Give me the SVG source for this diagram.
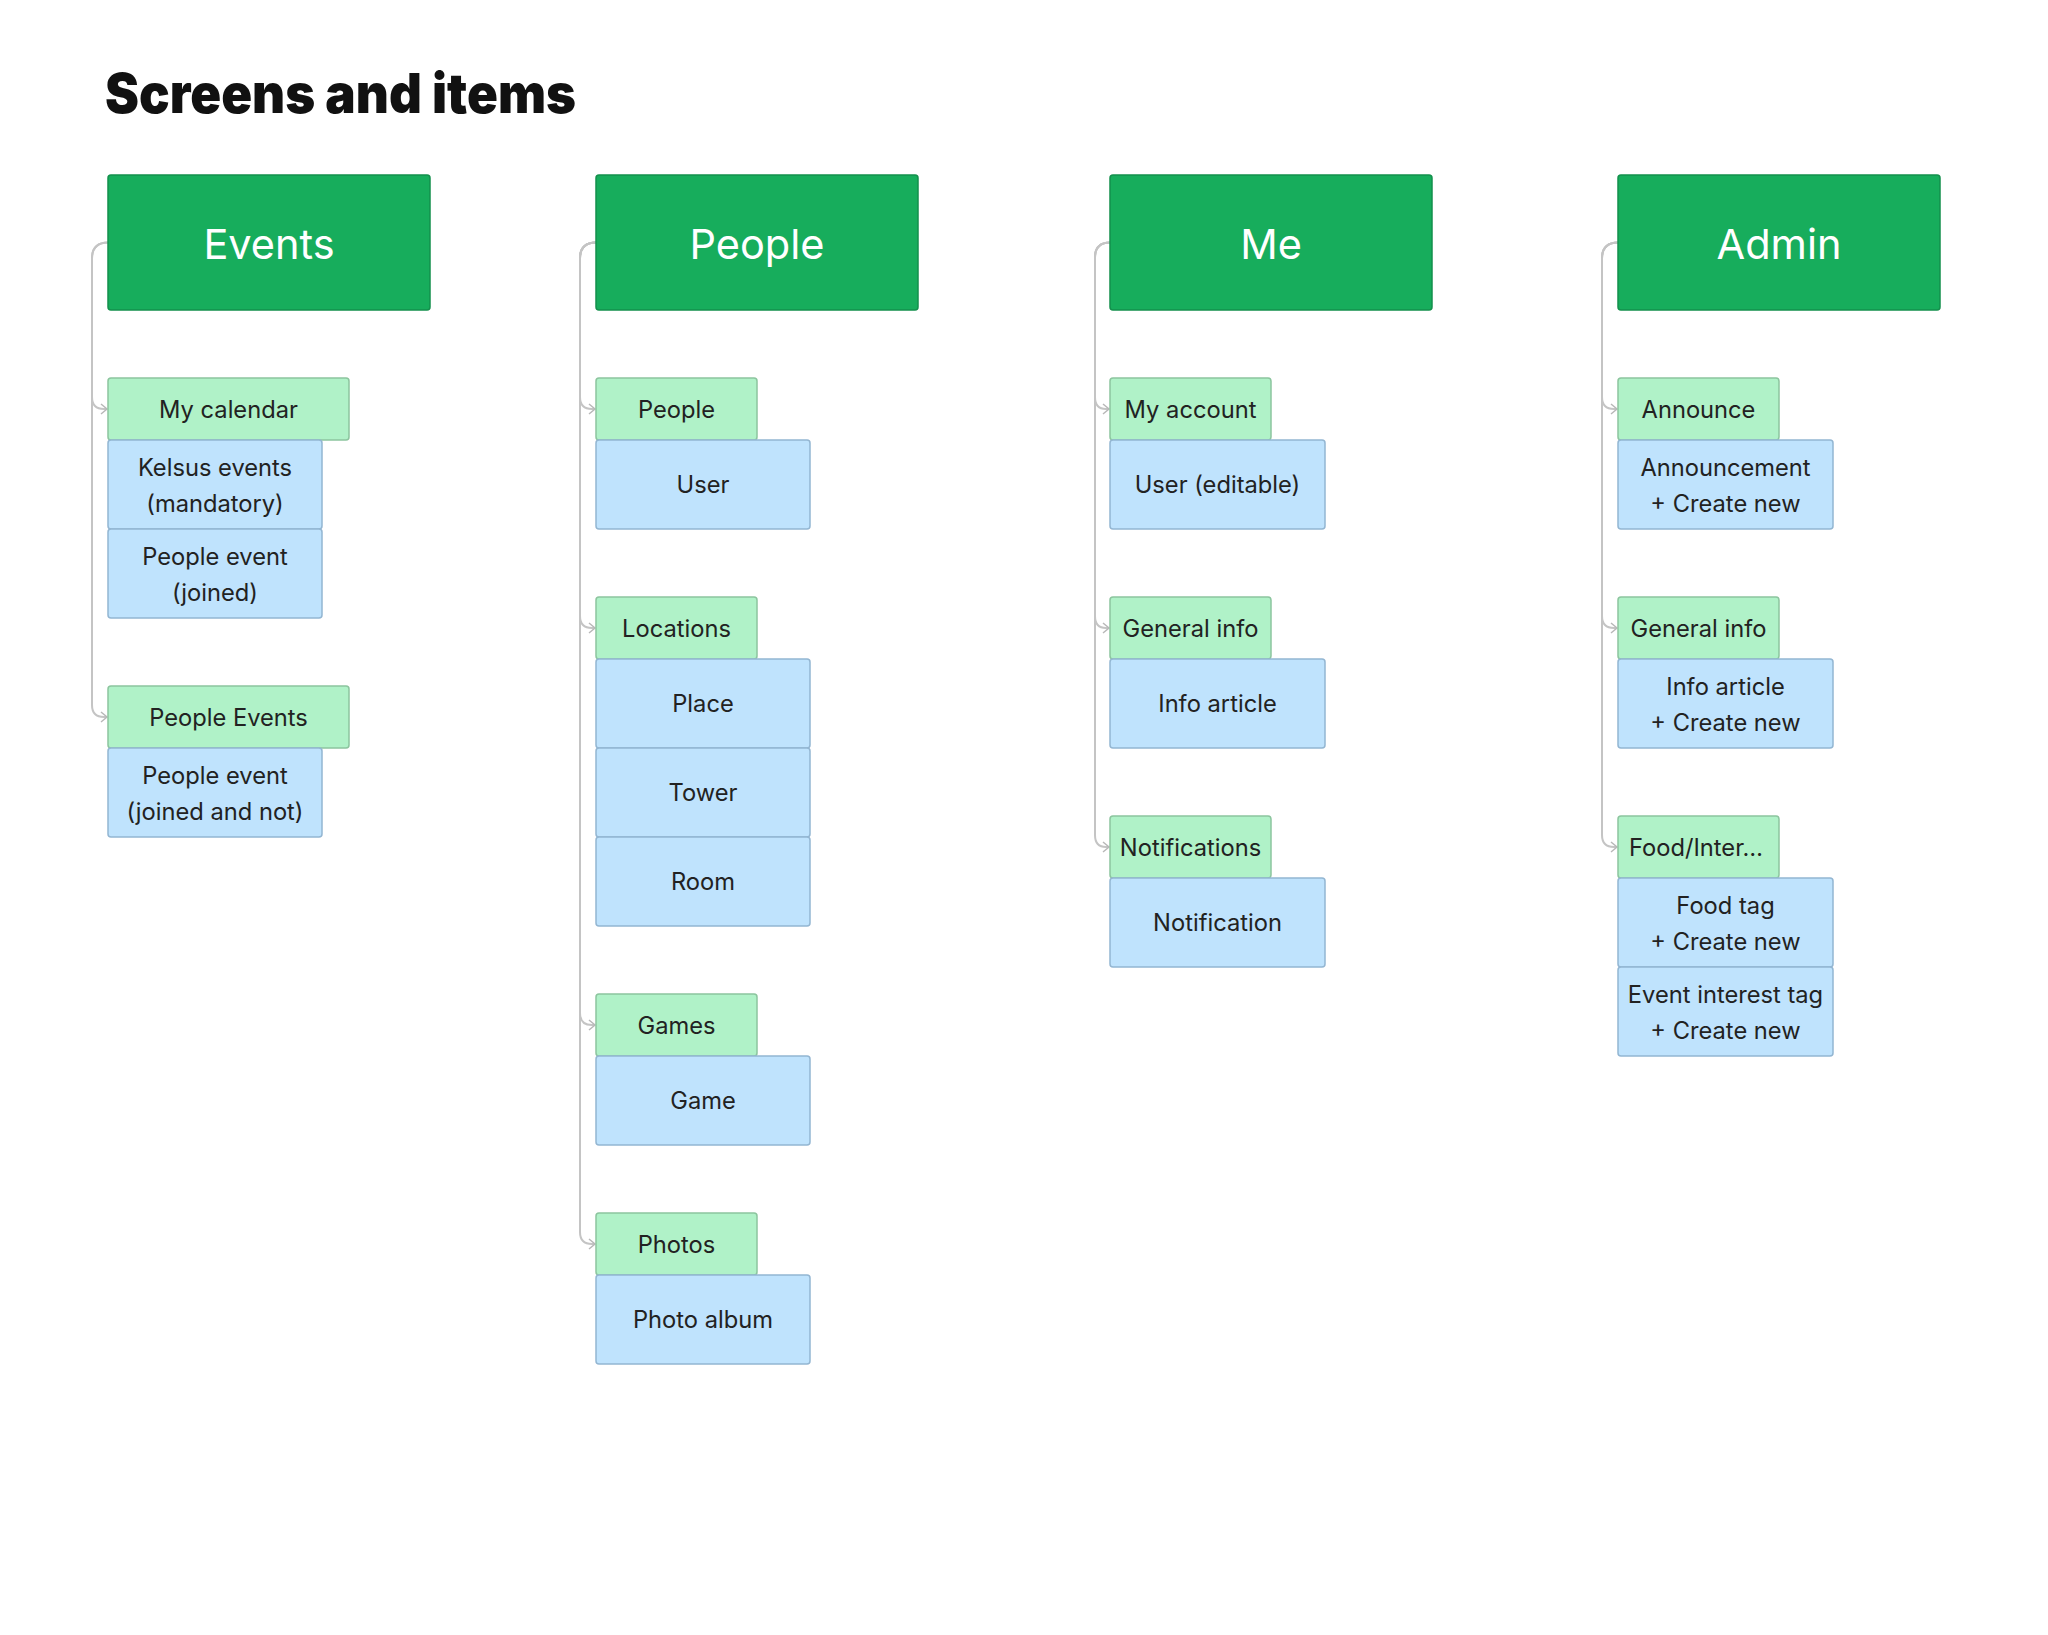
<svg xmlns="http://www.w3.org/2000/svg" width="2048" height="1635" viewBox="0 0 2048 1635">
<style>
.title{font-family:Inter,"Liberation Sans",sans-serif;font-weight:900;font-size:55px;fill:#111}
.hdr rect{fill:#17ad5c;stroke:#13904c;stroke-width:1.5}
.hdr text{font-family:Inter,"Liberation Sans",sans-serif;font-size:41.5px;fill:#fff;text-anchor:middle}
.grn rect{fill:#b0f2c8;stroke:#8cc59e;stroke-width:1.5}
.blu rect{fill:#bfe3fd;stroke:#93b6d2;stroke-width:1.5}
.grn text,.blu text{font-family:Inter,"Liberation Sans",sans-serif;font-size:23.7px;fill:#222;text-anchor:middle}
.con path{fill:none;stroke:#c4c4c4;stroke-width:2}
</style>
<defs>
<marker id="arr" markerWidth="10" markerHeight="12" refX="7" refY="6" orient="auto" markerUnits="userSpaceOnUse">
<path d="M1,1 L7,6 L1,11" fill="none" stroke="#b8b8b8" stroke-width="1.5"/>
</marker>
</defs>
<rect width="2048" height="1635" fill="#fff"/>
<text class="title" x="105" y="113" textLength="471" lengthAdjust="spacingAndGlyphs">Screens and items</text>

<g id="connectors" class="con">
<path d="M108,242.5 Q92,242.5 92,258.5 V397 Q92,409 104,409 H107" marker-end="url(#arr)"/>
<path d="M108,242.5 Q92,242.5 92,258.5 V705 Q92,717 104,717 H107" marker-end="url(#arr)"/>
<path d="M596,242.5 Q580,242.5 580,258.5 V397 Q580,409 592,409 H595" marker-end="url(#arr)"/>
<path d="M596,242.5 Q580,242.5 580,258.5 V616 Q580,628 592,628 H595" marker-end="url(#arr)"/>
<path d="M596,242.5 Q580,242.5 580,258.5 V1013 Q580,1025 592,1025 H595" marker-end="url(#arr)"/>
<path d="M596,242.5 Q580,242.5 580,258.5 V1232 Q580,1244 592,1244 H595" marker-end="url(#arr)"/>
<path d="M1110,242.5 Q1095,242.5 1095,257.5 V397 Q1095,409 1106,409 H1109" marker-end="url(#arr)"/>
<path d="M1110,242.5 Q1095,242.5 1095,257.5 V616 Q1095,628 1106,628 H1109" marker-end="url(#arr)"/>
<path d="M1110,242.5 Q1095,242.5 1095,257.5 V835 Q1095,847 1106,847 H1109" marker-end="url(#arr)"/>
<path d="M1618,242.5 Q1602,242.5 1602,258.5 V397 Q1602,409 1614,409 H1617" marker-end="url(#arr)"/>
<path d="M1618,242.5 Q1602,242.5 1602,258.5 V616 Q1602,628 1614,628 H1617" marker-end="url(#arr)"/>
<path d="M1618,242.5 Q1602,242.5 1602,258.5 V835 Q1602,847 1614,847 H1617" marker-end="url(#arr)"/>
</g>

<!-- Headers -->
<g id="events" class="hdr"><rect x="108" y="175" width="322" height="135" rx="3"/><text x="269" y="258.5">Events</text></g>
<g id="people" class="hdr"><rect x="596" y="175" width="322" height="135" rx="3"/><text x="757" y="258.5">People</text></g>
<g id="me" class="hdr"><rect x="1110" y="175" width="322" height="135" rx="3"/><text x="1271" y="258.5">Me</text></g>
<g id="admin" class="hdr"><rect x="1618" y="175" width="322" height="135" rx="3"/><text x="1779" y="258.5">Admin</text></g>

<!-- Events column -->
<g id="my-calendar" class="grn"><rect x="108" y="378" width="241" height="62" rx="3"/><text x="228.5" y="417.5">My calendar</text></g>
<g id="kelsus-events" class="blu"><rect x="108" y="440" width="214" height="89" rx="3"/><text x="215" y="476">Kelsus events</text><text x="215" y="512">(mandatory)</text></g>
<g id="people-event-joined" class="blu"><rect x="108" y="529" width="214" height="89" rx="3"/><text x="215" y="565">People event</text><text x="215" y="601">(joined)</text></g>
<g id="people-events" class="grn"><rect x="108" y="686" width="241" height="62" rx="3"/><text x="228.5" y="725.5">People Events</text></g>
<g id="people-event-all" class="blu"><rect x="108" y="748" width="214" height="89" rx="3"/><text x="215" y="784">People event</text><text x="215" y="820">(joined and not)</text></g>

<!-- People column -->
<g id="people-tab" class="grn"><rect x="596" y="378" width="161" height="62" rx="3"/><text x="676.5" y="417.5">People</text></g>
<g id="user" class="blu"><rect x="596" y="440" width="214" height="89" rx="3"/><text x="703" y="493">User</text></g>
<g id="locations" class="grn"><rect x="596" y="597" width="161" height="62" rx="3"/><text x="676.5" y="636.5">Locations</text></g>
<g id="place" class="blu"><rect x="596" y="659" width="214" height="89" rx="3"/><text x="703" y="712">Place</text></g>
<g id="tower" class="blu"><rect x="596" y="748" width="214" height="89" rx="3"/><text x="703" y="801">Tower</text></g>
<g id="room" class="blu"><rect x="596" y="837" width="214" height="89" rx="3"/><text x="703" y="890">Room</text></g>
<g id="games" class="grn"><rect x="596" y="994" width="161" height="62" rx="3"/><text x="676.5" y="1033.5">Games</text></g>
<g id="game" class="blu"><rect x="596" y="1056" width="214" height="89" rx="3"/><text x="703" y="1109">Game</text></g>
<g id="photos" class="grn"><rect x="596" y="1213" width="161" height="62" rx="3"/><text x="676.5" y="1252.5">Photos</text></g>
<g id="photo-album" class="blu"><rect x="596" y="1275" width="214" height="89" rx="3"/><text x="703" y="1328">Photo album</text></g>

<!-- Me column -->
<g id="my-account" class="grn"><rect x="1110" y="378" width="161" height="62" rx="3"/><text x="1190.5" y="417.5">My account</text></g>
<g id="user-editable" class="blu"><rect x="1110" y="440" width="215" height="89" rx="3"/><text x="1217.5" y="493">User (editable)</text></g>
<g id="me-general-info" class="grn"><rect x="1110" y="597" width="161" height="62" rx="3"/><text x="1190.5" y="636.5">General info</text></g>
<g id="info-article" class="blu"><rect x="1110" y="659" width="215" height="89" rx="3"/><text x="1217.5" y="712">Info article</text></g>
<g id="notifications" class="grn"><rect x="1110" y="816" width="161" height="62" rx="3"/><text x="1190.5" y="855.5">Notifications</text></g>
<g id="notification" class="blu"><rect x="1110" y="878" width="215" height="89" rx="3"/><text x="1217.5" y="931">Notification</text></g>

<!-- Admin column -->
<g id="announce" class="grn"><rect x="1618" y="378" width="161" height="62" rx="3"/><text x="1698.5" y="417.5">Announce</text></g>
<g id="announcement" class="blu"><rect x="1618" y="440" width="215" height="89" rx="3"/><text x="1725.5" y="476">Announcement</text><text x="1725.5" y="512">+ Create new</text></g>
<g id="admin-general-info" class="grn"><rect x="1618" y="597" width="161" height="62" rx="3"/><text x="1698.5" y="636.5">General info</text></g>
<g id="admin-info-article" class="blu"><rect x="1618" y="659" width="215" height="89" rx="3"/><text x="1725.5" y="695">Info article</text><text x="1725.5" y="731">+ Create new</text></g>
<g id="food-inter" class="grn"><rect x="1618" y="816" width="161" height="62" rx="3"/><text x="1696" y="855.5">Food/Inter…</text></g>
<g id="food-tag" class="blu"><rect x="1618" y="878" width="215" height="89" rx="3"/><text x="1725.5" y="914">Food tag</text><text x="1725.5" y="950">+ Create new</text></g>
<g id="event-interest-tag" class="blu"><rect x="1618" y="967" width="215" height="89" rx="3"/><text x="1725.5" y="1003">Event interest tag</text><text x="1725.5" y="1039">+ Create new</text></g>
</svg>
